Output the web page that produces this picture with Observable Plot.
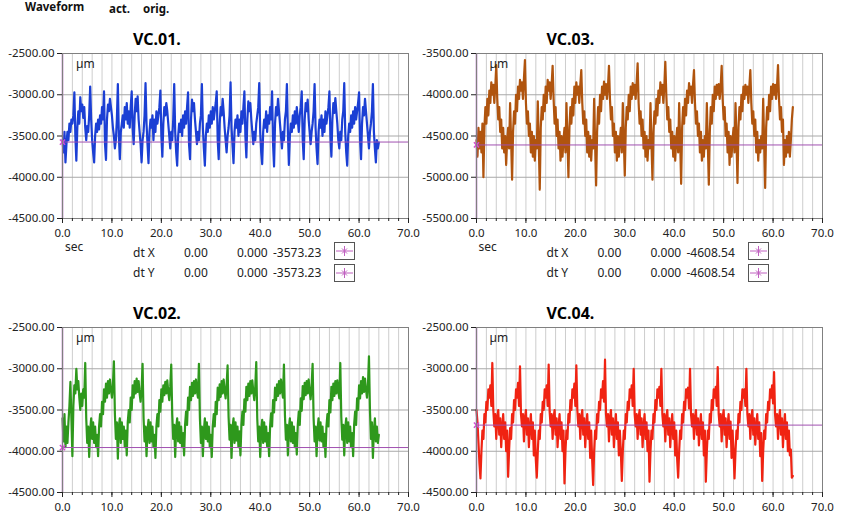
<!DOCTYPE html>
<html><head><meta charset="utf-8">
<script src="https://cdn.jsdelivr.net/npm/d3@7"></script>
<script src="https://cdn.jsdelivr.net/npm/@observablehq/plot@0.6"></script>
<style>
html,body{margin:0;padding:0;background:#fff;}
#page{position:relative;width:842px;height:517px;overflow:hidden;font-family:"Noto Sans",sans-serif;color:#111;}
.t{position:absolute;white-space:nowrap;line-height:1.2;}
.panel{position:absolute;}
.box{position:absolute;width:21px;height:18px;border:1px solid #555;background:#fff;box-sizing:border-box;}
.box svg{display:block;}
</style></head><body><div id="page"></div>
<script>
// ---- sampling (waveform dt, seconds) ----
const dt = 0.2;

// ---- series values (µm), one value every dt seconds from t = 0 ----
const vc01 = [-3550,-3700,-3450,-3820,-3600,-3450,-3550,-3350,-3450,-3300,-3350,-3250,
-2970,-3500,-3800,-3400,-3200,-3350,-3030,-3200,-3120,-3280,-3150,-3400,-3550,-3380,-3450,-3250,
-2900,-3300,-3550,-3700,-3820,-3500,-3350,-3450,-3300,-3420,-3250,-3350,-3150,-3300,
-2960,-3600,-3790,-3300,-3120,-3200,-3050,-3150,-3250,-3400,-3500,-3650,-3550,-3300,
-2870,-3500,-3780,-3450,-3350,-3250,-3400,-3150,-3300,-3100,-3350,-3200,-3400,-3150,
-2960,-3400,-3600,-3250,-3050,-3200,-3020,-3300,-3450,-3600,-3820,-3550,-3450,-3250,
-2860,-3350,-3600,-3830,-3450,-3300,-3400,-3250,-3550,-3300,-3450,-3200,-3350,-3250,-3150,
-2950,-3500,-3750,-3350,-3150,-3250,-3100,-3200,-3350,-3500,-3650,-3450,-3550,-3300,
-2870,-3450,-3700,-3860,-3500,-3350,-3450,-3300,-3500,-3250,-3400,-3200,-3350,-3150,
-2970,-3600,-3780,-3300,-3060,-3200,-3100,-3300,-3450,-3600,-3450,-3550,-3350,-3250,
-2870,-3400,-3650,-3860,-3500,-3350,-3450,-3250,-3400,-3200,-3350,-3150,-3300,-3200,-3100,
-2960,-3550,-3780,-3350,-3150,-3250,-3050,-3200,-3400,-3550,-3700,-3500,-3400,-3250,
-2850,-3400,-3620,-3830,-3450,-3300,-3400,-3250,-3500,-3300,-3450,-3200,-3350,-3150,
-2960,-3500,-3760,-3300,-3080,-3200,-3100,-3300,-3450,-3600,-3450,-3550,-3350,-3250,-3150,
-2860,-3450,-3700,-3840,-3450,-3300,-3400,-3200,-3450,-3250,-3350,-3150,-3300,
-2960,-3600,-3870,-3350,-3150,-3250,-3050,-3200,-3350,-3500,-3650,-3450,-3550,-3300,-3200,
-2870,-3450,-3850,-3500,-3350,-3450,-3250,-3400,-3200,-3350,-3150,-3300,-3450,-3250,-3150,
-2960,-3550,-3780,-3300,-3100,-3200,-3060,-3300,-3450,-3600,-3450,-3350,-3200,
-2870,-3400,-3650,-3840,-3450,-3300,-3400,-3250,-3500,-3300,-3450,-3200,-3350,-3250,-3150,
-2960,-3500,-3750,-3300,-3100,-3220,-3040,-3200,-3350,-3550,-3650,-3450,-3550,-3300,-3200,
-2860,-3450,-3700,-3860,-3500,-3350,-3450,-3250,-3400,-3200,-3350,-3150,-3300,-3200,-3100,
-2970,-3550,-3780,-3350,-3150,-3250,-3050,-3200,-3350,-3500,-3650,-3450,-3350,-3200,
-2870,-3450,-3650,-3820,-3550,-3650,-3580];

const vc03 = [-4550,-4750,-4400,-4650,-4450,-4700,-4350,
-5000,-4400,-4150,-4350,-4050,-4250,-3950,-4100,-3850,-4000,-3880,-4100,-3900,-3640,-4050,-4300,-4150,-4450,-4300,-4650,-4400,-4700,-4500,-4850,-4550,-4400,-4650,-4100,-4550,
-5030,-4450,-4200,-4350,-4000,-4200,-3900,-4050,-3820,-3950,-3850,-4050,-3800,-3580,-4100,-4350,-4200,-4500,-4350,-4700,-4450,-4750,-4500,-4800,-4550,-4650,-4080,-4600,
-5150,-4400,-4150,-4300,-4000,-4200,-3900,-4100,-3820,-3950,-3850,-4050,-3880,-3650,-4050,-4350,-4150,-4500,-4300,-4650,-4450,-4800,-4500,-4750,-4550,-4400,-4700,-4100,-4550,
-5000,-4400,-4150,-4350,-4050,-4250,-3900,-4100,-3850,-4000,-3900,-4100,-3880,-3700,-4100,-4350,-4200,-4500,-4300,-4700,-4450,-4750,-4500,-4800,-4550,-4650,-4050,-4600,
-5100,-4450,-4150,-4350,-4000,-4200,-3900,-4050,-3840,-4000,-3870,-4050,-3900,-3650,-4050,-4300,-4150,-4500,-4350,-4700,-4450,-4800,-4500,-4750,-4550,-4400,-4700,-4100,-4550,
-4980,-4400,-4150,-4300,-4000,-4200,-3900,-4050,-3860,-4000,-3880,-4050,-3850,-3620,-4100,-4350,-4200,-4500,-4300,-4650,-4450,-4750,-4500,-4800,-4550,-4650,-4100,-4600,
-5030,-4450,-4200,-4350,-4050,-4250,-3950,-4100,-3850,-4000,-3880,-4100,-3900,-3600,-4000,-4300,-4150,-4450,-4300,-4650,-4450,-4750,-4500,-4800,-4550,-4400,-4700,-4100,-4550,
-5080,-4400,-4150,-4350,-4050,-4250,-3950,-4100,-3860,-4000,-3900,-4100,-3880,-3700,-4100,-4350,-4200,-4500,-4350,-4700,-4450,-4800,-4550,-4750,-4500,-4650,-4100,-4600,
-5090,-4450,-4150,-4350,-4000,-4200,-3900,-4050,-3880,-4000,-3870,-4050,-3900,-3650,-4050,-4300,-4150,-4500,-4350,-4700,-4450,-4850,-4500,-4750,-4550,-4400,-4700,-4100,-4550,
-5070,-4400,-4150,-4300,-4000,-4200,-3900,-4050,-3880,-4000,-3900,-4100,-3900,-3700,-4100,-4350,-4200,-4500,-4300,-4700,-4450,-4800,-4550,-4700,-4500,-4650,-4050,-4600,
-5130,-4400,-4150,-4300,-4000,-4200,-3900,-4050,-3870,-4000,-3880,-4050,-3900,-3640,-4050,-4300,-4150,-4450,-4300,-4850,-4550,-4750,-4500,-4700,-4450,-4750,-4550,-4300,-4150];

const vc02 = [-3600,-3880,-3550,-3950,-3700,-3900,-3650,-3450,-3160,-3600,-4060,-3450,-3200,-3300,-3000,-3250,-3150,-3350,-3500,-3300,-3450,-3250,-3350,
-2930,-3600,-3900,-3700,-4070,-3750,-3600,-3850,-3650,-3900,-3700,-3950,-3800,-4060,-3700,-3550,-3700,-3400,-3550,-3250,-3400,-3180,-3350,-3150,-3300,-3130,-3250,-3350,-3200,
-2910,-3550,-3850,-3650,-4090,-3700,-3600,-3900,-3650,-3850,-3700,-3950,-3750,-4050,-3650,-3500,-3650,-3350,-3500,-3200,-3350,-3150,-3300,-3120,-3280,-3150,-3300,-3400,-3250,
-2940,-3600,-3880,-3700,-4060,-3750,-3620,-3900,-3650,-3880,-3700,-3950,-3800,-4080,-3700,-3550,-3700,-3380,-3520,-3250,-3400,-3200,-3320,-3160,-3300,-3140,-3280,-3380,-3220,
-2950,-3550,-3850,-3680,-4070,-3720,-3600,-3880,-3650,-3900,-3700,-3950,-3780,-4050,-3680,-3520,-3680,-3350,-3500,-3220,-3380,-3170,-3330,-3150,-3300,-3130,-3270,-3350,
-2940,-3600,-3900,-3700,-4060,-3750,-3600,-3850,-3650,-3880,-3700,-3950,-3800,-4070,-3700,-3550,-3700,-3400,-3550,-3230,-3380,-3190,-3340,-3150,-3300,-3130,-3260,-3360,-3200,
-2960,-3580,-3860,-3680,-4080,-3720,-3600,-3900,-3650,-3870,-3700,-3950,-3760,-4050,-3680,-3520,-3680,-3370,-3520,-3220,-3380,-3180,-3330,-3150,-3300,-3140,-3270,-3380,-3220,
-2920,-3600,-3880,-3700,-4070,-3740,-3620,-3900,-3650,-3880,-3700,-3940,-3780,-4060,-3700,-3540,-3700,-3380,-3530,-3230,-3380,-3190,-3330,-3150,-3300,-3130,-3260,-3350,
-2950,-3560,-3860,-3680,-4050,-3720,-3600,-3880,-3650,-3900,-3700,-3950,-3780,-4040,-3680,-3520,-3680,-3360,-3510,-3210,-3370,-3170,-3320,-3150,-3300,-3130,-3270,-3370,-3210,
-2940,-3600,-3880,-3700,-4060,-3740,-3600,-3870,-3650,-3880,-3700,-3950,-3790,-4070,-3700,-3550,-3700,-3380,-3530,-3220,-3380,-3180,-3330,-3150,-3300,-3140,-3270,-3360,
-2930,-3580,-3860,-3680,-4050,-3720,-3600,-3900,-3650,-3880,-3700,-3950,-3780,-4060,-3680,-3520,-3680,-3360,-3500,-3200,-3360,-3150,-3300,-3100,-3280,-3120,-3250,-3350,-3200,
-2850,-3500,-3850,-3650,-4080,-3750,-3600,-3880,-3700,-3900,-3800];

const vc04 = [-3500,-3650,-3900,-4150,
-4330,-4000,-3750,-3850,-3550,-3650,-3400,-3500,-3250,-3350,-3200,-3450,-2930,-3500,-3700,-3550,-3850,-3600,-3500,-3800,-3600,-3950,-3700,-3550,-3850,-3650,-4000,-3750,
-4310,-3980,-3720,-3850,-3550,-3650,-3380,-3500,-3250,-3350,-3170,-3450,-2970,-3550,-3700,-3550,-3880,-3600,-3500,-3800,-3600,-3950,-3700,-3550,-3850,-3650,-4050,-3750,-4100,
-4320,-4000,-3750,-3850,-3550,-3650,-3400,-3500,-3250,-3350,-3200,-3450,-2950,-3520,-3700,-3550,-3850,-3600,-3500,-3800,-3600,-3950,-3700,-3550,-3850,-3650,-4000,-3750,
-4390,-4000,-3750,-3850,-3550,-3650,-3380,-3500,-3250,-3350,-3180,-3450,-2960,-3500,-3700,-3550,-3850,-3600,-3500,-3800,-3600,-3950,-3700,-3550,-3850,-3650,-4080,-3750,-4100,
-4410,-4000,-3750,-3850,-3550,-3650,-3400,-3500,-3250,-3350,-3150,-3400,-2890,-3550,-3700,-3550,-3880,-3600,-3500,-3800,-3600,-3950,-3700,-3550,-3850,-3650,-4050,-3750,-4000,
-4360,-4000,-3750,-3850,-3550,-3650,-3400,-3500,-3250,-3350,-3200,-3450,-3000,-3550,-3700,-3550,-3850,-3600,-3500,-3800,-3600,-3950,-3700,-3550,-3850,-3650,-4000,-3750,
-4370,-4000,-3750,-3850,-3550,-3650,-3380,-3500,-3250,-3350,-3220,-3450,-3000,-3550,-3700,-3550,-3880,-3600,-3500,-3800,-3600,-3950,-3700,-3550,-3850,-3650,-4050,-3750,-4100,
-4320,-4000,-3750,-3850,-3550,-3650,-3400,-3500,-3250,-3350,-3230,-3480,-3000,-3550,-3700,-3550,-3850,-3600,-3500,-3800,-3600,-3930,-3700,-3550,-3850,-3650,-4050,-3750,
-4370,-4000,-3750,-3850,-3550,-3650,-3380,-3500,-3250,-3350,-3220,-3450,-2980,-3550,-3700,-3550,-3880,-3600,-3500,-3800,-3600,-3950,-3700,-3550,-3850,-3640,-4080,-3750,-4000,
-4330,-4000,-3750,-3850,-3550,-3650,-3400,-3500,-3250,-3350,-3250,-3450,-3000,-3550,-3700,-3550,-3850,-3600,-3500,-3800,-3600,-3920,-3700,-3550,-3850,-3650,-4060,-3780,
-4360,-4000,-3750,-3850,-3550,-3650,-3400,-3500,-3250,-3350,-3200,-3420,-3040,-3550,-3700,-3550,-3850,-3600,-3500,-3800,-3600,-3950,-3700,-3550,-3850,-3650,-4000,-3750,-4050,
-3980,-4320,-4300];

// ---- cursor values ----
const cursors = {"VC.01.": -3573.23, "VC.03.": -4608.54, "VC.02.": -3955, "VC.04.": -3683};
const cursorLabels = {"VC.01.": "-3573.23", "VC.03.": "-4608.54"};

// ---- ticks ----
const xDomain = [0, 70];
const xMajorTicks = [0, 10, 20, 30, 40, 50, 60, 70];
const xMinorTicks = [0,2,4,6,8,10,12,14,16,18,20,22,24,26,28,30,32,34,36,38,40,42,44,46,48,50,52,54,56,58,60,62,64,66,68,70];
const yTicksA = [-2500, -3000, -3500, -4000, -4500];
const yTicksB = [-3500, -4000, -4500, -5000, -5500];

// ---- layout/styles (not data) ----
const panels = [
  {name: "VC.01.", values: vc01, color: "#1b3fd4", yTicks: yTicksA, left: 0,   top: 40,  dt: true},
  {name: "VC.03.", values: vc03, color: "#b0540e", yTicks: yTicksB, left: 414, top: 40,  dt: true},
  {name: "VC.02.", values: vc02, color: "#2e981c", yTicks: yTicksA, left: 0,   top: 314, dt: false},
  {name: "VC.04.", values: vc04, color: "#f02312", yTicks: yTicksA, left: 414, top: 314, dt: false}
];
const cursorColor = "#a050b0";
const page = document.getElementById("page");

// line-height 1.2 -> baseline sits at top + 0.988 * size for Noto Sans
function put(text, x, baseline, size, weight, color) {
  const d = document.createElement("div");
  d.className = "t";
  d.textContent = text;
  d.style.left = x + "px";
  d.style.top = (baseline - 0.988 * size) + "px";
  d.style.fontSize = size + "px";
  d.style.fontWeight = weight || "normal";
  if (color) d.style.color = color;
  page.appendChild(d);
}
function box(x, y) {
  const b = document.createElement("div");
  b.className = "box";
  b.style.left = x + "px";
  b.style.top = y + "px";
  b.innerHTML = '<svg width="19" height="16"><line x1="1" y1="8" x2="18" y2="8" stroke="#c060c0"/><line x1="9.5" y1="3" x2="9.5" y2="13" stroke="#c060c0"/><line x1="7" y1="5.5" x2="12" y2="10.5" stroke="#c060c0"/><line x1="12" y1="5.5" x2="7" y2="10.5" stroke="#c060c0"/></svg>';
  page.appendChild(b);
}

put("Waveform", 25, 11.8, 11.5, "bold");
put("act.", 109, 13.2, 11.5, "bold");
put("orig.", 143, 13.2, 11.5, "bold");

for (const p of panels) {
  const cursor = cursors[p.name];
  const data = p.values.map((v, i) => ({t: i * dt, v}));
  const chart = Plot.plot({
    width: 421, height: 200,
    marginLeft: 62, marginRight: 13, marginTop: 13, marginBottom: 22,
    x: {domain: xDomain, label: null},
    y: {domain: [p.yTicks[p.yTicks.length - 1], p.yTicks[0]], label: null},
    style: {fontFamily: "Noto Sans", fontSize: "11.5px", color: "#222", background: "transparent", overflow: "visible"},
    marks: [
      Plot.gridX(xMinorTicks, {stroke: "#cdcdcd", strokeOpacity: 1}),
      Plot.gridY(p.yTicks, {stroke: "#a8a8a8", strokeOpacity: 1}),
      Plot.line(data, {x: "t", y: "v", stroke: p.color, strokeWidth: 2.2, strokeLinejoin: "round"}),
      Plot.ruleY([cursor], {stroke: cursorColor, strokeWidth: 1}),
      Plot.ruleX([0], {stroke: cursorColor, strokeWidth: 1.5}),
      Plot.dot([{t: 0, v: cursor}], {x: "t", y: "v", symbol: "times", r: 2.5, stroke: "#d050d0"}),
      Plot.frame({stroke: "#808080"}),
      Plot.axisY(p.yTicks, {label: null, tickSize: 5, tickPadding: 3, tickFormat: d => d.toFixed(2)}),
      Plot.axisX(xMajorTicks, {label: null, tickSize: 5, tickPadding: 5, tickFormat: d => d.toFixed(1)}),
      Plot.axisX(xMinorTicks, {label: null, tickSize: 3, tickFormat: () => ""})
    ]
  });
  const wrap = document.createElement("div");
  wrap.className = "panel";
  wrap.style.left = p.left + "px";
  wrap.style.top = p.top + "px";
  wrap.appendChild(chart);
  page.appendChild(wrap);

  const off = p.left === 0 ? 0 : 413.5;
  put(p.name, 133 + off, p.top + 5.7, 16, "bold", "#000");
  put("µm", 76 + off, p.top + 28.5, 12, "normal", "#222");
  if (p.dt) {
    put("sec", 65 + off, 251.5, 12, "normal", "#222");
    const rows = [["dt X", 257.7, 242], ["dt Y", 278, 264]];
    for (const [lab, bl, by] of rows) {
      put(lab, 133 + off, bl, 12, "normal", "#222");
      put("0.00", 184 + off, bl, 12, "normal", "#222");
      put("0.000", 237 + off, bl, 12, "normal", "#222");
      put(cursorLabels[p.name], 273 + off, bl, 12, "normal", "#222");
      box(334 + off, by);
    }
  }
}
</script></body></html>
